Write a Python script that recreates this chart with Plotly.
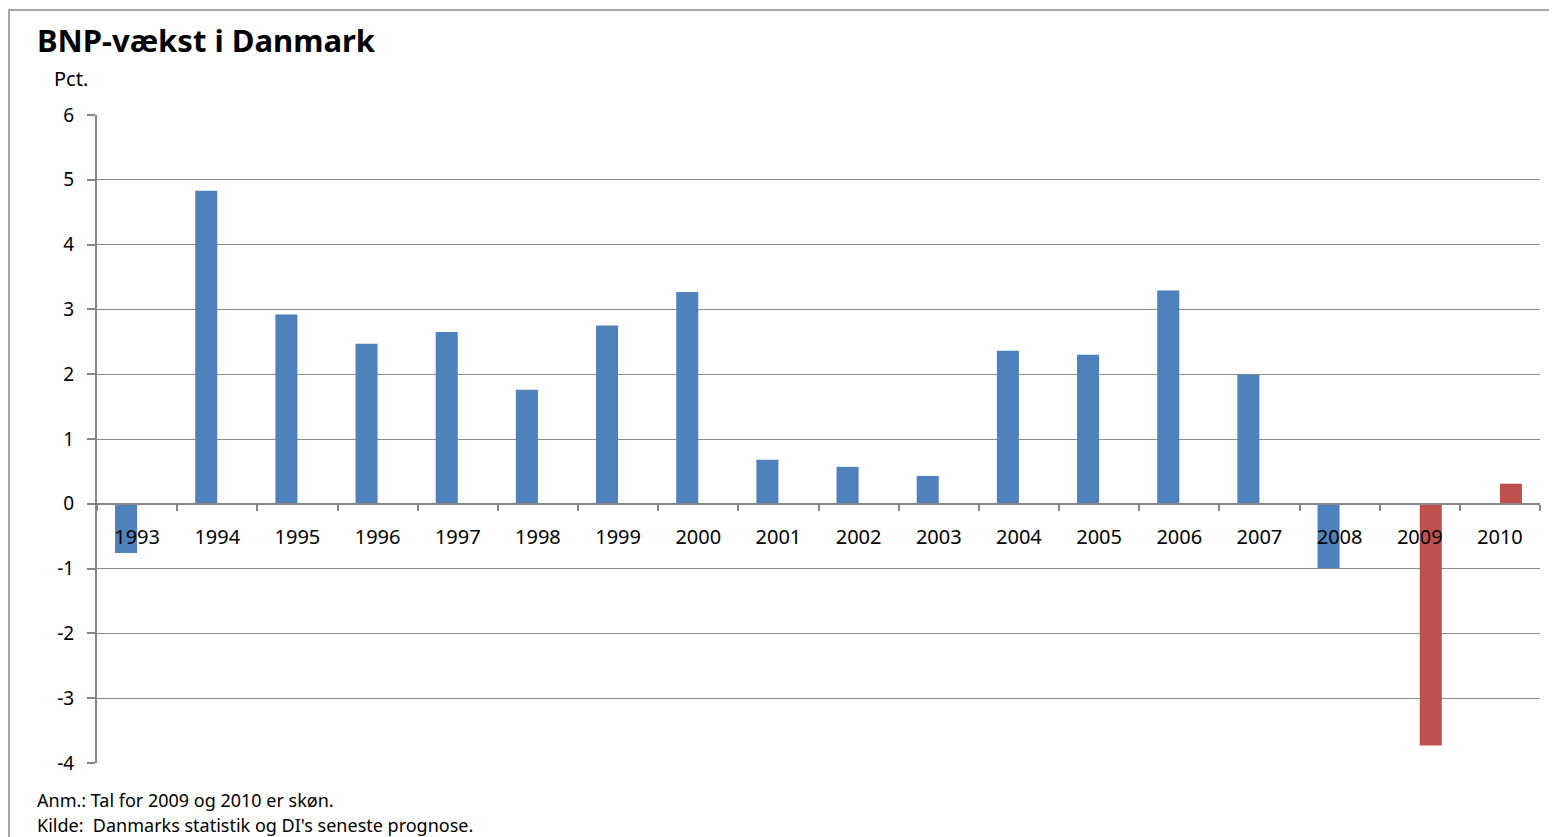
import plotly.graph_objects as go

years = ["1993", "1994", "1995", "1996", "1997", "1998", "1999", "2000", "2001",
         "2002", "2003", "2004", "2005", "2006", "2007", "2008", "2009", "2010"]
historical = [-0.76, 4.83, 2.92, 2.47, 2.65, 1.76, 2.75, 3.27, 0.68,
              0.57, 0.43, 2.36, 2.30, 3.29, 1.99, -0.99, None, None]
forecast = [None] * 16 + [-3.73, 0.31]
y_tickvals = [-4, -3, -2, -1, 0, 1, 2, 3, 4, 5, 6]
y_ticktext = ["-4", "-3", "-2", "-1", "0", "1", "2", "3", "4", "5", "6"]

FONT = "Noto Sans"
OFF = 8  # page body margin offset
W, H = 1557, 837
L, T = 97 - OFF, 115 - OFF
R = W - (1540 - OFF)
B = H - (763 - OFF)
pw, ph = W - L - R, H - T - B

def px(x):
    return (x - OFF - L) / pw

def py(y):
    return (H - B - (y - OFF)) / ph

fig = go.Figure()
fig.add_trace(go.Bar(x=years, y=historical, marker=dict(color="#4F81BD", line=dict(width=0)),
                     name="Faktisk"))
fig.add_trace(go.Bar(x=years, y=forecast, marker=dict(color="#C0504D", line=dict(width=0)),
                     name="Skøn"))

fig.update_layout(
    width=W, height=H,
    margin=dict(l=L, r=R, t=T, b=B),
    paper_bgcolor="white", plot_bgcolor="white",
    barmode="group", bargap=0.45, bargroupgap=0,
    showlegend=False,
    font=dict(family=FONT, color="black", size=18),
    xaxis=dict(type="category", range=[-0.5, 17.5], anchor="free", position=0.4,
               showline=True, linecolor="#868686", linewidth=2,
               ticks="outside", tickson="boundaries", ticklen=6, tickcolor="#868686",
               tickwidth=1.5, showgrid=False, ticklabelstandoff=15,
               tickfont=dict(size=20, family=FONT)),
    yaxis=dict(range=[-4, 6], tickvals=y_tickvals, ticktext=y_ticktext,
               showline=True, linecolor="#868686", linewidth=2,
               ticks="outside", ticklen=8, tickcolor="#868686", tickwidth=1.5,
               showgrid=True, gridcolor="#8C8C8C", gridwidth=1, zeroline=False,
               ticklabelstandoff=9, tickfont=dict(size=19, family=FONT)),
)

fig.add_shape(type="rect", xref="paper", yref="paper",
              x0=px(9), x1=px(1575), y0=py(860), y1=py(10),
              line=dict(color="#A6A6A6", width=2), fillcolor="rgba(0,0,0,0)", layer="below")

annots = [
    ("<b>BNP-vækst i Danmark</b>", 35, 40, 31),
    ("Pct.", 52, 79, 20),
    ("Anm.: Tal for 2009 og 2010 er skøn.", 35, 800, 18),
    ("Kilde:  Danmarks statistik og DI's seneste prognose.", 35, 825, 18),
]
for text, x, y, size in annots:
    fig.add_annotation(text=text, xref="paper", yref="paper", x=px(x), y=py(y),
                       xanchor="left", yanchor="middle", showarrow=False,
                       font=dict(family=FONT, size=size, color="black"))

fig.write_html("out.html")
